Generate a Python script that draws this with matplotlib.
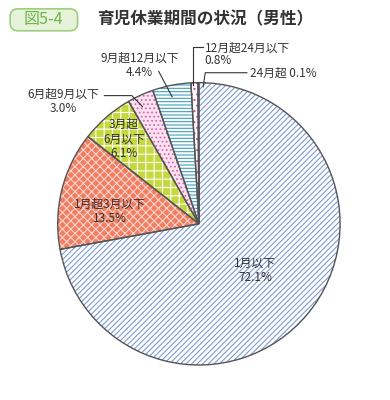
import matplotlib.pyplot as plt
from matplotlib.patches import FancyBboxPatch

plt.rcParams['font.family'] = ['Noto Sans CJK JP', 'DejaVu Sans']
plt.rcParams['hatch.linewidth'] = 0.8

# data
labels = ['1月以下', '1月超3月以下', '3月超\n6月以下', '6月超9月以下', '9月超12月以下', '12月超24月以下', '24月超']
values = [72.1, 13.5, 6.1, 3.0, 4.4, 0.8, 0.1]

faces = ['white', '#f27d62', '#c5d93e', '#fbe3f1', 'white', 'white', '#555555']
hatch_cols = ['#7b9bd6', '#fbd6cc', 'white', '#e062b0', '#3f9fc2', '#e0449c', '#555555']
hatches = ['//////', 'xxxx', '++', '....', '-----', '...', '']

fig = plt.figure(figsize=(3.9, 4.0), dpi=100)
ax = fig.add_axes([0.148, 0.087, 0.724, 0.707])

# filled, hatched wedges
wedges, _ = ax.pie(values, startangle=90, counterclock=False, radius=1.0,
                   wedgeprops=dict(linewidth=0))
for w, fc, hc, h in zip(wedges, faces, hatch_cols, hatches):
    w.set_facecolor(fc)
    w.set_hatch(h)
    w.set_edgecolor(hc)
# outlines on top
outl, _ = ax.pie(values, startangle=90, counterclock=False, radius=1.0,
                 wedgeprops=dict(fill=False, edgecolor='#555555', linewidth=1.0))
ax.set_aspect('equal')
ax.set_xlim(-1.0, 1.0)
ax.set_ylim(-1.0, 1.0)

txt = dict(fontsize=8.5, color='#333333', ha='center', va='center', linespacing=1.15)
ax.text(0.40, -0.33, labels[0] + '\n' + f'{values[0]}%', **txt)
ax.text(-0.63, 0.09, labels[1] + '\n' + f'{values[1]}%', **txt)
ax.text(-0.53, 0.60, labels[2] + '\n' + f'{values[2]}%', **txt)
ax.text(-0.96, 0.87, labels[3] + '\n' + f'{values[3]:.1f}%', **txt)
ax.text(-0.42, 1.12, labels[4] + '\n' + f'{values[4]}%', **txt)
ax.text(0.04, 1.20, labels[5] + '\n' + f'{values[5]}%', fontsize=8.5, color='#333333',
        ha='left', va='center', linespacing=1.0)
ax.text(0.36, 1.065, labels[6] + ' ' + f'{values[6]}%', fontsize=8.5, color='#333333',
        ha='left', va='center')

lk = dict(color='#333333', lw=0.8, clip_on=False)
ax.plot([-0.67, -0.475, -0.40], [0.908, 0.908, 0.83], **lk)
ax.plot([-0.284, -0.19], [1.078, 0.90], **lk)
ax.plot([0.03, -0.04, -0.04], [1.25, 1.25, 0.98], **lk)
ax.plot([0.34, 0.045, 0.03], [1.07, 1.07, 0.97], **lk)

# header
box = FancyBboxPatch((0.03, 0.927), 0.165, 0.047, boxstyle='round,pad=0.004,rounding_size=0.02',
                     transform=fig.transFigure, facecolor='#e6f3da', edgecolor='#9ccf7c', lw=1.2)
fig.patches.append(box)
fig.text(0.112, 0.951, '図5-4', fontsize=11.5, color='#6cb64a', ha='center', va='center')
fig.text(0.248, 0.951, '育児休業期間の状況（男性）', fontsize=12, color='#333333',
         ha='left', va='center', fontweight='bold')

fig.savefig('out.png', dpi=100)
